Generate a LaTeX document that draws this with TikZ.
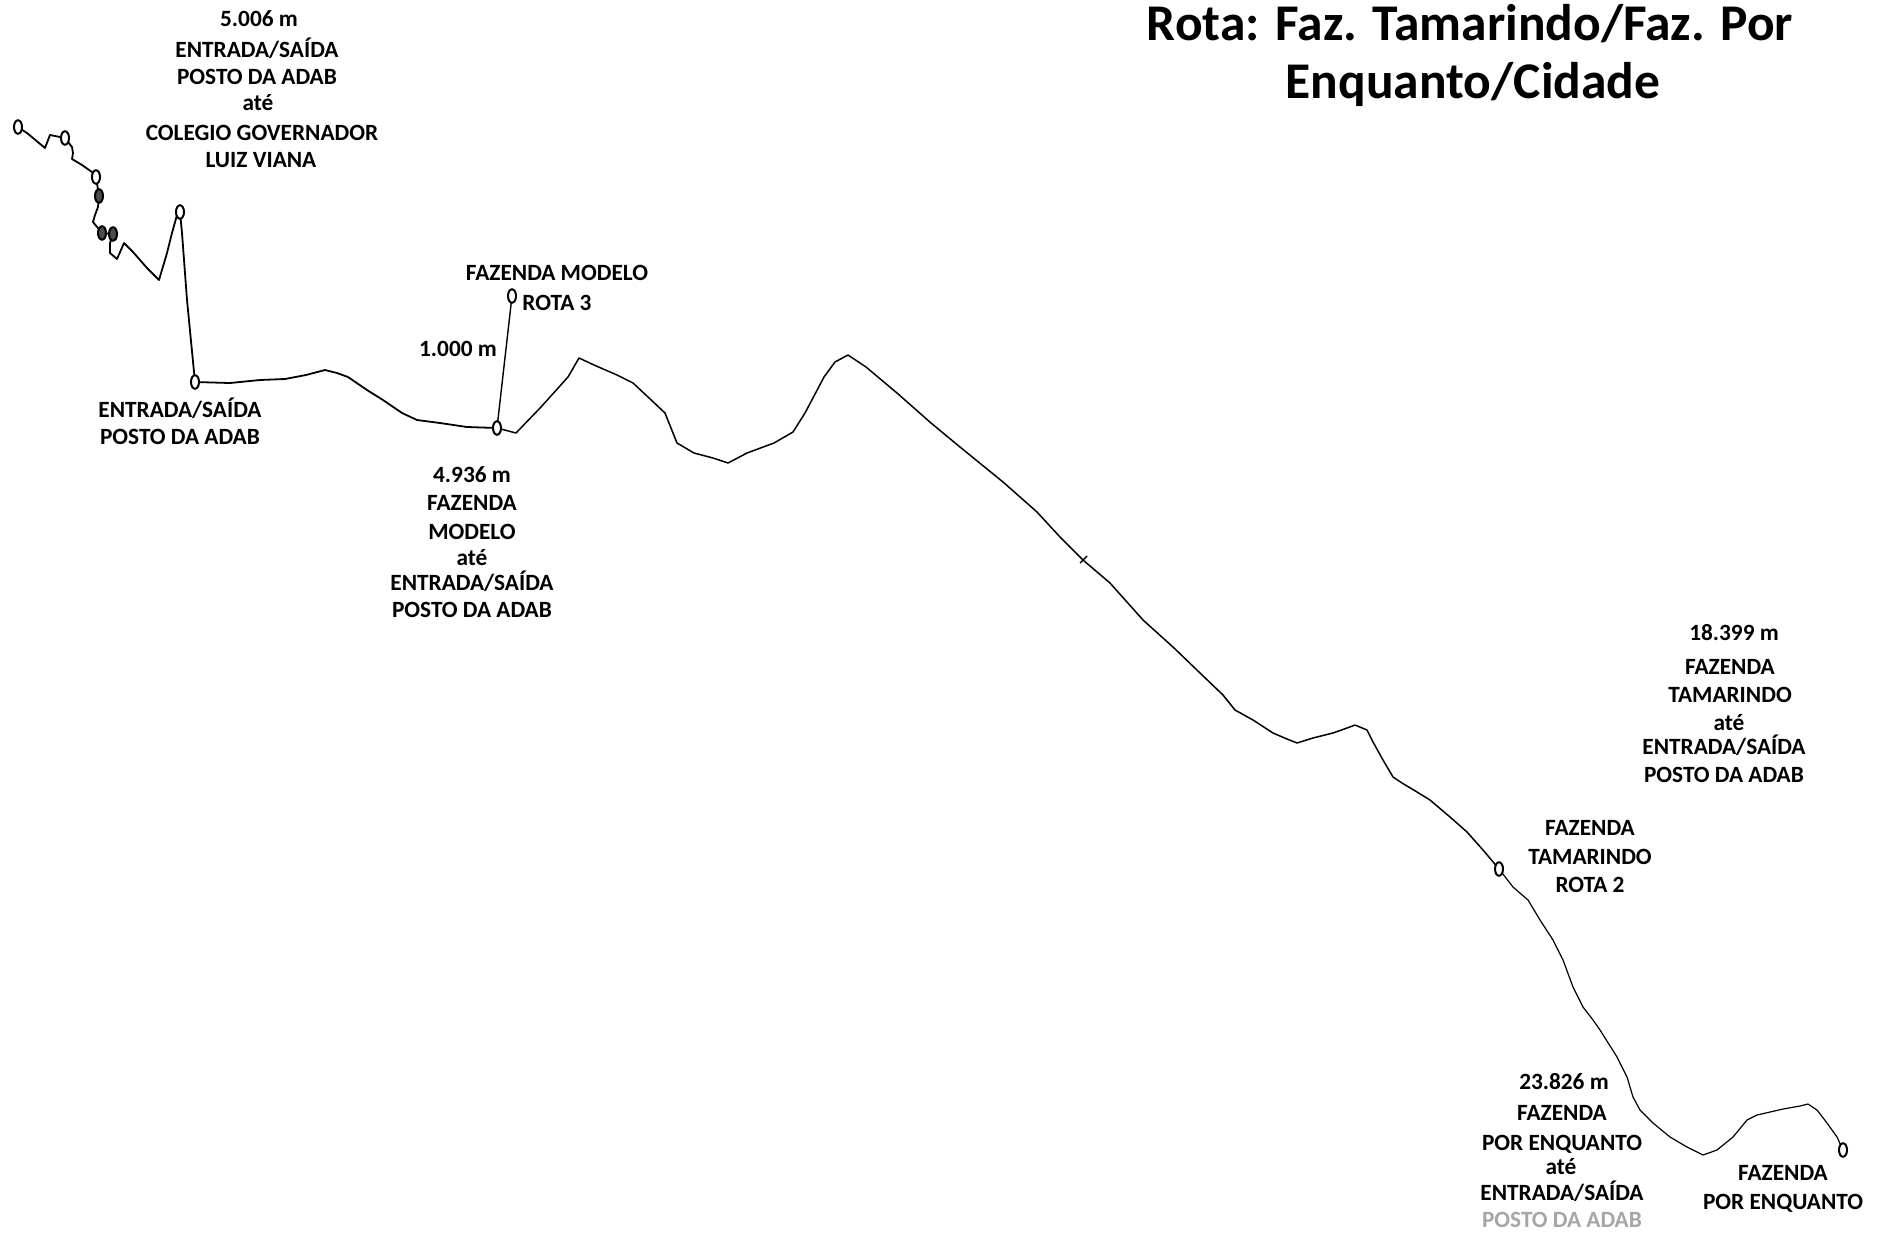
\documentclass[tikz,border=0pt]{standalone}
\usepackage{fontspec}
\setmainfont{Carlito}
\usetikzlibrary{shapes.geometric}
\begin{document}
\begin{tikzpicture}[x=1pt,y=-1pt,
  route/.style={line width=1.8pt, line join=round, line cap=round},
  routethin/.style={line width=1.2pt, line join=round, line cap=round},
  pin/.style={ellipse, draw, line width=2pt, fill=white, minimum width=8pt, minimum height=13.5pt, inner sep=0pt},
  pinf/.style={pin, fill=black!70},
  lbl/.style={font=\bfseries\fontsize{23.3}{28}\selectfont, anchor=base, inner sep=0pt},
  faded/.style={lbl, text=black!35},
  ttl/.style={font=\bfseries\fontsize{51.5}{62}\selectfont, anchor=base, inner sep=0pt}]
\useasboundingbox (0,0) rectangle (1884,1232);
\fill[white] (0,0) rectangle (1884,1232);

% marker positions
\coordinate (p1) at (18,127);
\coordinate (p2) at (65,138);
\coordinate (p3) at (96,177);
\coordinate (p4) at (99,196);
\coordinate (p5) at (102,233);
\coordinate (p6) at (113,234);
\coordinate (p7) at (180,212);
\coordinate (p8) at (195,382);
\coordinate (p9) at (497,428);
\coordinate (p10) at (512,296);
\coordinate (p11) at (1499,869);
\coordinate (p12) at (1843,1150);

% route line
\draw[route] (p1) -- (27,133) -- (45,148) -- (50,135) -- (55,136) -- (p2)
  -- (72,147) -- (73,153) -- (72,159) -- (82,165) -- (92,172) -- (p3)
  -- (p4) -- (98,207) -- (95,215) -- (93,222) -- (p5) -- (p6)
  -- (110,243) -- (110,253) -- (117,259) -- (124,243) -- (133,252) -- (147,268)
  -- (159,280) -- (167,253) -- (172,233) -- (177,215) -- (p7)
  -- (182,233) -- (187,300) -- (p8)
  -- (230,383) -- (260,380) -- (285,379) -- (306,375) -- (325,370) -- (337,373)
  -- (348,377) -- (367,390) -- (383,400) -- (402,413) -- (417,420) -- (440,423)
  -- (467,427) -- (p9);
\draw[route, line width=1.5pt] (p9) -- (516,433) -- (541,407) -- (568,377) -- (579,358) -- (594,365)
  -- (617,375) -- (633,383) -- (648,397) -- (665,413) -- (677,443) -- (694,453)
  -- (713,458) -- (728,463) -- (747,453) -- (774,443) -- (793,432) -- (805,413)
  -- (824,377) -- (835,362) -- (848,355) -- (866,367) -- (897,393) -- (931,423)
  -- (960,447) -- (1003,482) -- (1037,512) -- (1060,537) -- (1083,560) -- (1110,583)
  -- (1143,620) -- (1173,647) -- (1200,673) -- (1223,695) -- (1235,710) -- (1253,720)
  -- (1273,733) -- (1287,739) -- (1297,743) -- (1313,738) -- (1333,733) -- (1347,728)
  -- (1355,725) -- (1367,730) -- (1373,742) -- (1383,760) -- (1393,777) -- (1402,783)
  -- (1417,792) -- (1430,800) -- (1450,817) -- (1467,832) -- (1483,850) -- (p11);
\draw[routethin] (p11) -- (1513,887) -- (1528,900) -- (1540,920) -- (1553,940) -- (1563,960)
  -- (1573,987) -- (1583,1007) -- (1593,1020) -- (1600,1030) -- (1617,1057) -- (1627,1077)
  -- (1633,1097) -- (1640,1110) -- (1653,1123) -- (1670,1137) -- (1687,1147) -- (1703,1155)
  -- (1717,1150) -- (1733,1137) -- (1747,1120) -- (1757,1115) -- (1770,1112) -- (1783,1109)
  -- (1800,1106) -- (1808,1104) -- (1817,1110) -- (1827,1123) -- (1837,1137) -- (p12);
% small tick on the descent
\draw[line width=1.4pt] (1080,563) -- (1087,556);
% spur to Fazenda Modelo Rota 3
\draw[line width=1.4pt] (p9) -- (p10);

% markers
\node[pin]  (m1)  at (p1) {};
\node[pin]  (m2)  at (p2) {};
\node[pin]  (m3)  at (p3) {};
\node[pinf] (m4)  at (p4) {};
\node[pinf] (m5)  at (p5) {};
\node[pinf] (m6)  at (p6) {};
\node[pin]  (m7)  at (p7) {};
\node[pin]  (m8)  at (p8) {};
\node[pin]  (m9)  at (p9) {};
\node[pin]  (m10) at (p10) {};
\node[pin]  (m11) at (p11) {};
\node[pin]  (m12) at (p12) {};

% title
\node[ttl] (t1) at (1470,40) {Rota: Faz. Tamarindo/Faz. Por};
\node[ttl] (t2) at (1473,98) {Enquanto/Cidade};

% block A
\node[lbl] (a1) at (259,26) {5.006 m};
\node[lbl] (a2) at (257,57) {ENTRADA/SAÍDA};
\node[lbl] (a3) at (257,84) {POSTO DA ADAB};
\node[lbl] (a4) at (258,110) {até};
\node[lbl] (a5) at (262,140) {COLEGIO GOVERNADOR};
\node[lbl] (a6) at (261,167) {LUIZ VIANA};

% block B
\node[lbl] (b1) at (180,417) {ENTRADA/SAÍDA};
\node[lbl] (b2) at (180,444) {POSTO DA ADAB};

% block C
\node[lbl] (c1) at (557,280) {FAZENDA MODELO};
\node[lbl] (c2) at (557,310) {ROTA 3};

% block D
\node[lbl] (d1) at (458,356) {1.000 m};

% block E
\node[lbl] (e1) at (472,482) {4.936 m};
\node[lbl] (e2) at (472,510) {FAZENDA};
\node[lbl] (e3) at (472,539) {MODELO};
\node[lbl] (e4) at (472,565) {até};
\node[lbl] (e5) at (472,590) {ENTRADA/SAÍDA};
\node[lbl] (e6) at (472,617) {POSTO DA ADAB};

% block F
\node[lbl] (f1) at (1734,640) {18.399 m};
\node[lbl] (f2) at (1730,674) {FAZENDA};
\node[lbl] (f3) at (1730,702) {TAMARINDO};
\node[lbl] (f4) at (1729,730) {até};
\node[lbl] (f5) at (1724,754) {ENTRADA/SAÍDA};
\node[lbl] (f6) at (1724,782) {POSTO DA ADAB};

% block G
\node[lbl] (g1) at (1590,835) {FAZENDA};
\node[lbl] (g2) at (1590,864) {TAMARINDO};
\node[lbl] (g3) at (1590,892) {ROTA 2};

% block H
\node[lbl] (h1) at (1564,1089) {23.826 m};
\node[lbl] (h2) at (1562,1120) {FAZENDA};
\node[lbl] (h3) at (1562,1150) {POR ENQUANTO};
\node[lbl] (h4) at (1561,1174) {até};
\node[lbl] (h5) at (1562,1200) {ENTRADA/SAÍDA};
\node[faded] (h6) at (1562,1227) {POSTO DA ADAB};

% block I
\node[lbl] (i1) at (1783,1180) {FAZENDA};
\node[lbl] (i2) at (1783,1209) {POR ENQUANTO};
\end{tikzpicture}
\end{document}
